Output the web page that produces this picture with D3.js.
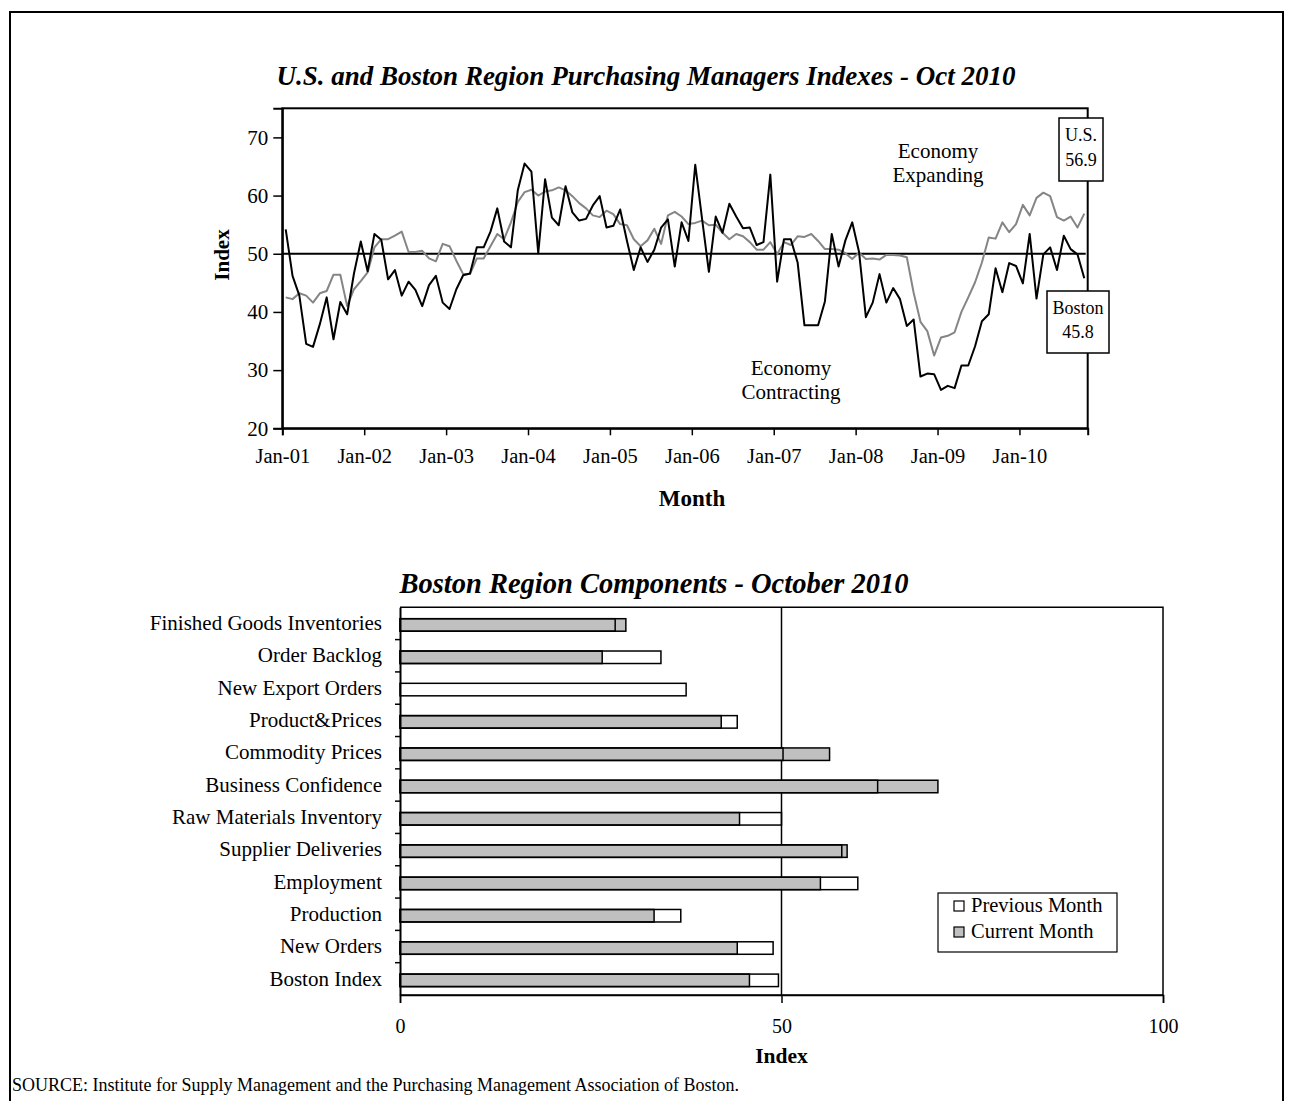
<!DOCTYPE html>
<html><head><meta charset="utf-8">
<script src="https://cdn.jsdelivr.net/npm/d3@7"></script>
<style>
body{margin:0;background:#fff}
svg{display:block}
text{font-family:"Liberation Serif","Times New Roman",serif;fill:#000}
</style>
</head><body>
<svg id="c" width="1291" height="1101"></svg>
<script>
// ---------- DATA ----------
// Monthly index Jan-2001 .. Oct-2010 (118 months)
const bostonIndex = [
 54.2,46.2,42.8,34.5,34.0,37.9,42.5,35.3,41.7,39.6,46.6,52.1,
 47.0,53.4,52.4,45.6,47.2,42.8,45.2,43.8,41.0,44.6,46.2,41.6,
 40.5,43.9,46.3,46.6,51.1,51.1,53.8,57.8,52.1,51.1,60.9,65.5,
 64.1,50.1,62.8,56.2,54.9,61.6,57.1,55.7,56.0,58.3,59.9,54.5,
 54.8,57.6,52.2,47.2,51.1,48.6,50.7,54.5,55.9,47.8,55.4,52.2,
 65.3,56.0,46.9,56.4,53.6,58.6,56.4,54.4,54.5,51.5,52.0,63.6,
 45.2,52.5,52.5,48.5,37.7,37.7,37.7,41.8,53.4,47.8,52.3,55.4,
 50.3,39.1,41.6,46.5,41.6,44.1,42.2,37.6,38.7,28.9,29.4,29.3,
 26.6,27.3,26.9,30.8,30.8,34.1,38.4,39.6,47.5,43.4,48.4,47.9,
 44.9,53.4,42.3,49.9,51.1,47.2,53.1,50.8,49.9,45.8
];
const usIndex = [
 42.5,42.2,43.2,42.8,41.6,43.2,43.6,46.4,46.4,41.0,43.9,45.3,
 46.8,51.1,52.5,52.5,53.1,53.8,50.3,50.3,50.5,49.2,48.7,51.7,
 51.3,48.8,46.5,46.5,49.2,49.2,51.3,53.4,52.5,55.4,58.9,60.6,
 61.0,60.0,60.7,60.9,61.4,60.9,59.9,58.7,57.8,56.6,56.3,57.4,
 56.8,55.1,54.9,52.5,51.3,52.3,54.3,51.7,56.6,57.2,56.4,55.1,
 55.3,55.7,54.9,55.0,53.6,52.5,53.4,53.0,52.0,50.7,50.7,52.0,
 49.9,52.0,51.5,53.0,52.9,53.4,52.2,50.8,50.8,50.7,50.1,49.1,
 50.2,49.1,49.2,49.0,49.8,49.8,49.7,49.4,43.3,38.3,36.7,32.5,
 35.6,35.9,36.5,40.0,42.5,45.1,48.5,52.8,52.6,55.4,53.7,55.1,
 58.4,56.6,59.6,60.5,59.9,56.3,55.7,56.4,54.5,56.9
];
const yearTickLabels = ["Jan-01","Jan-02","Jan-03","Jan-04","Jan-05","Jan-06","Jan-07","Jan-08","Jan-09","Jan-10"];
const yTicks = [20,30,40,50,60,70];

const componentCategories = ["Finished Goods Inventories","Order Backlog","New Export Orders","Product&Prices",
 "Commodity Prices","Business Confidence","Raw Materials Inventory","Supplier Deliveries","Employment",
 "Production","New Orders","Boston Index"];
const previousMonth = [28.2,34.2,37.5,44.2,50.2,62.6,50.0,57.9,60.0,36.8,48.9,49.6];
const currentMonth  = [29.6,26.5,null,42.1,56.3,70.5,44.5,58.6,55.1,33.3,44.2,45.8];
const barTicks = [0,50,100];

// ---------- DRAW ----------
const svg = d3.select("#c");
const SERIF = '"Liberation Serif","Times New Roman",serif';

// outer frame
svg.append("rect").attr("x",10).attr("y",12).attr("width",1273).attr("height",1100)
  .attr("fill","none").attr("stroke","#000").attr("stroke-width",2);

// ===== Top line chart =====
const L = {left:282.3,right:1087.7,top:108.3,bottom:428.3};
const n = bostonIndex.length;
const xLin = d3.scaleLinear().domain([0,n]).range([L.left,L.right]);
const y = d3.scaleLinear().domain([20,75]).range([L.bottom,L.top]);

svg.append("text").attr("x",646).attr("y",85).attr("text-anchor","middle")
  .style("font-size","27px").style("font-weight","bold").style("font-style","italic")
  .text("U.S. and Boston Region Purchasing Managers Indexes - Oct 2010");

// plot border
svg.append("rect").attr("x",L.left).attr("y",L.top).attr("width",L.right-L.left).attr("height",L.bottom-L.top)
  .attr("fill","none").attr("stroke","#000").attr("stroke-width",2);

// 50 line
svg.append("line").attr("x1",L.left).attr("x2",L.right-2).attr("y1",y(50)).attr("y2",y(50))
  .attr("stroke","#000").attr("stroke-width",1.8);

const yAxis = svg.append("g").attr("transform",`translate(${L.left},0)`)
  .call(d3.axisLeft(y).tickValues(yTicks).tickSize(9).tickPadding(5).tickFormat(d3.format("d")));
yAxis.select(".domain").attr("stroke","#000").attr("stroke-width",2);
yAxis.selectAll(".tick line").attr("stroke-width",1.5);
yAxis.selectAll("text").style("font-family",SERIF).style("font-size","21px").attr("fill","#000");

const xAxis = svg.append("g").attr("transform",`translate(0,${L.bottom})`)
  .call(d3.axisBottom(xLin).tickValues(yearTickLabels.map((d,i)=>i*12)).tickSize(7).tickPadding(13)
    .tickFormat((d,i)=>yearTickLabels[i]));
xAxis.select(".domain").attr("stroke","#000").attr("stroke-width",2);
xAxis.selectAll(".tick line").attr("stroke-width",1.5);
xAxis.selectAll("text").style("font-family",SERIF).style("font-size","20.5px").attr("fill","#000");

svg.append("text").attr("x",0).attr("y",0).attr("transform","translate(229,255) rotate(-90)")
  .attr("text-anchor","middle").style("font-size","21px").style("font-weight","bold").text("Index");
svg.append("text").attr("x",692).attr("y",506).attr("text-anchor","middle")
  .style("font-size","23px").style("font-weight","bold").text("Month");

const line = d3.line().x((d,i)=>xLin(i+0.5)).y(d=>y(d));
svg.append("path").datum(usIndex).attr("d",line).attr("fill","none").attr("stroke","#858585").attr("stroke-width",2).attr("stroke-linejoin","round");
svg.append("path").datum(bostonIndex).attr("d",line).attr("fill","none").attr("stroke","#000").attr("stroke-width",2).attr("stroke-linejoin","round");

// annotations
function twoLine(x,y1,y2,a,b,size){
  svg.append("text").attr("x",x).attr("y",y1).attr("text-anchor","middle").style("font-size",size).text(a);
  svg.append("text").attr("x",x).attr("y",y2).attr("text-anchor","middle").style("font-size",size).text(b);
}
twoLine(938,158,182,"Economy","Expanding","21px");
twoLine(791,375,399,"Economy","Contracting","21px");

// end labels
svg.append("rect").attr("x",1059).attr("y",118).attr("width",44).attr("height",63)
  .attr("fill","#fff").attr("stroke","#000").attr("stroke-width",1.5);
twoLine(1081,141,166,"U.S.",d3.format(".1f")(usIndex[n-1]),"18px");
svg.append("rect").attr("x",1047).attr("y",291).attr("width",62).attr("height",62)
  .attr("fill","#fff").attr("stroke","#000").attr("stroke-width",1.5);
twoLine(1078,314,338,"Boston",d3.format(".1f")(bostonIndex[n-1]),"18px");

// ===== Bottom bar chart =====
const B = {left:400,right:1163,top:607.3,bottom:995};
const bx = d3.scaleLinear().domain([0,100]).range([B.left,B.right]);
const by = d3.scaleBand().domain(componentCategories).range([B.top,B.bottom]).padding(0);
const barH = 12.5;

svg.append("text").attr("x",654).attr("y",593).attr("text-anchor","middle")
  .style("font-size","28.5px").style("font-weight","bold").style("font-style","italic")
  .text("Boston Region Components - October 2010");

// border top/right/bottom
svg.append("path").attr("d",`M${B.left},${B.top}H${B.right}V${B.bottom}H${B.left}`)
  .attr("fill","none").attr("stroke","#000").attr("stroke-width",1.5);
// 50 reference line
svg.append("line").attr("x1",bx(50)).attr("x2",bx(50)).attr("y1",B.top).attr("y2",B.bottom)
  .attr("stroke","#000").attr("stroke-width",1.5);

const rows = componentCategories.map((c,i)=>({c,prev:previousMonth[i],cur:currentMonth[i]}));
const barY = d=>by(d.c)+by.bandwidth()/2-barH/2+1.5;
svg.append("g").selectAll("rect").data(rows.filter(d=>d.cur!=null)).join("rect")
  .attr("x",bx(0)).attr("y",barY).attr("width",d=>bx(d.cur)-bx(0)).attr("height",barH)
  .attr("fill","#c0c0c0").attr("stroke","#000").attr("stroke-width",1.5);
svg.append("g").selectAll("rect").data(rows.filter(d=>d.prev!=null)).join("rect")
  .attr("x",bx(0)).attr("y",barY).attr("width",d=>bx(d.prev)-bx(0)).attr("height",barH)
  .attr("fill","none").attr("stroke","#000").attr("stroke-width",1.5);

const yAx2 = svg.append("g").attr("transform",`translate(${B.left},0)`)
  .call(d3.axisLeft(by).tickSize(0).tickPadding(18));
yAx2.select(".domain").attr("stroke","#000").attr("stroke-width",2);
yAx2.selectAll("text").style("font-family",SERIF).style("font-size","21px").attr("fill","#000");
// category separator ticks
svg.append("g").selectAll("line").data(componentCategories.slice(1)).join("line")
  .attr("x1",B.left-5).attr("x2",B.left).attr("y1",d=>by(d)).attr("y2",d=>by(d))
  .attr("stroke","#000").attr("stroke-width",1.5);

const xAx2 = svg.append("g").attr("transform",`translate(0,${B.bottom})`)
  .call(d3.axisBottom(bx).tickValues(barTicks).tickSize(8).tickPadding(16).tickFormat(d3.format("d")));
xAx2.select(".domain").attr("stroke","#000").attr("stroke-width",1.5);
xAx2.selectAll(".tick line").attr("stroke-width",1.5);
xAx2.selectAll("text").style("font-family",SERIF).style("font-size","20px").attr("fill","#000");

svg.append("text").attr("x",bx(50)).attr("y",1063).attr("text-anchor","middle")
  .style("font-size","21.5px").style("font-weight","bold").text("Index");

// legend
const lg = svg.append("g");
lg.append("rect").attr("x",938).attr("y",893).attr("width",179).attr("height",59)
  .attr("fill","#fff").attr("stroke","#000").attr("stroke-width",1.2);
[["Previous Month","#fff"],["Current Month","#c0c0c0"]].forEach((d,i)=>{
  lg.append("rect").attr("x",954).attr("y",901+i*26).attr("width",10).attr("height",10)
    .attr("fill",d[1]).attr("stroke","#000").attr("stroke-width",1.2);
  lg.append("text").attr("x",971).attr("y",912+i*26).style("font-size","20.5px").text(d[0]);
});

svg.append("text").attr("x",12).attr("y",1091).style("font-size","18px")
  .text("SOURCE: Institute for Supply Management and the Purchasing Management Association of Boston.");
</script>
</body></html>
